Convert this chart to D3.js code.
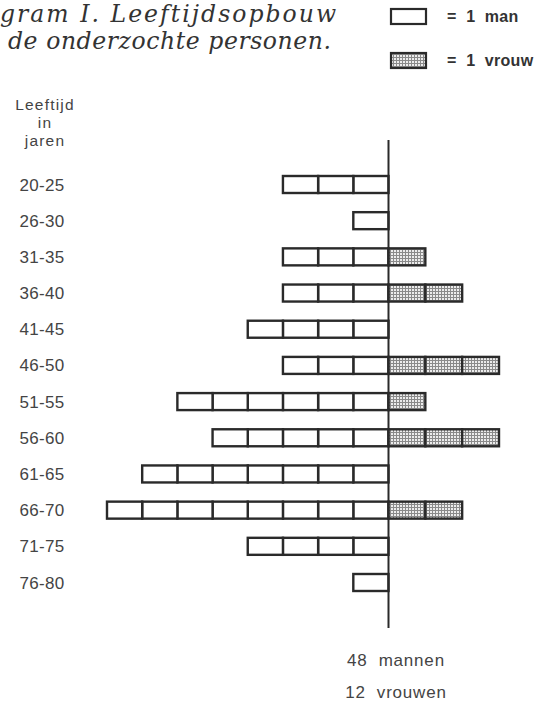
<!DOCTYPE html>
<html><head><meta charset="utf-8">
<script src="https://cdn.jsdelivr.net/npm/d3@7"></script>
<style>html,body{margin:0;padding:0;background:#fff;}svg{display:block;}</style>
</head><body>
<script>
const ageGroups = ["20-25","26-30","31-35","36-40","41-45","46-50","51-55","56-60","61-65","66-70","71-75","76-80"];
const men   = [3,1,3,3,4,3,6,5,7,8,4,1];
const women = [0,0,1,2,0,3,1,3,0,2,0,0];
const titleLines = ["gram I.  Leeftijdsopbouw", "de onderzochte personen."];
const legendLabels = ["=  1  man", "=  1  vrouw"];
const axisTitle = ["Leeftijd", "in", "jaren"];
const totals = ["48  mannen", "12  vrouwen"];

const W = 552, H = 705;
const svg = d3.select("body").append("svg").attr("width", W).attr("height", H);

const defs = svg.append("defs");
const pat = defs.append("pattern").attr("id","dots").attr("patternUnits","userSpaceOnUse")
  .attr("width",3).attr("height",3);
pat.append("rect").attr("width",3).attr("height",3).attr("fill","#ececec");
pat.append("rect").attr("x",0).attr("y",0).attr("width",1).attr("height",3).attr("fill","#8a8a8a");
pat.append("rect").attr("x",0).attr("y",0).attr("width",3).attr("height",1).attr("fill","#8a8a8a");

const axisX = 388.5;
const xMen = d3.scaleLinear().domain([0, 8]).range([axisX, 107]);
const xWomen = d3.scaleLinear().domain([0, 3]).range([axisX, 499]);
const y = d3.scalePoint().domain(ageGroups).range([184.5, 582.5]);
const boxH = 17;
const ink = "#2a2a2a";
const sans = "'Liberation Sans', Arial, sans-serif";

// title
svg.append("g").selectAll("text").data(titleLines).join("text")
  .attr("x", (d,i) => i === 0 ? 0 : 8).attr("y", (d,i) => 22 + i*27)
  .attr("font-family", "'DejaVu Serif', 'Liberation Serif', serif")
  .attr("font-style", "italic").attr("font-size", 23.5).attr("fill", "#333")
  .attr("textLength", (d,i) => i === 0 ? 336 : 323).attr("lengthAdjust", "spacing")
  .text(d => d);

// legend
const leg = svg.append("g");
[0,1].forEach(i => {
  const ly = 9 + i*44;
  leg.append("rect").attr("x", 391).attr("y", ly).attr("width", 35).attr("height", 15)
    .attr("fill", i === 0 ? "#fff" : "url(#dots)").attr("stroke", ink).attr("stroke-width", 2.2);
  leg.append("text").attr("x", 447).attr("y", ly + 13)
    .attr("font-family", sans).attr("font-weight", "bold")
    .attr("font-size", 16).attr("fill", "#333").attr("xml:space","preserve")
    .attr("letter-spacing", 0.3).text(legendLabels[i]);
});

// axis title
svg.append("g").selectAll("text").data(axisTitle).join("text")
  .attr("x", 45).attr("y", (d,i) => 110 + i*18).attr("text-anchor", "middle")
  .attr("font-family", sans).attr("font-size", 15.5).attr("letter-spacing", 1.2).attr("fill", "#444")
  .text(d => d);

// row labels
svg.append("g").selectAll("text").data(ageGroups).join("text")
  .attr("x", 42).attr("y", d => y(d) + 6).attr("text-anchor", "middle")
  .attr("font-family", sans).attr("font-size", 17).attr("letter-spacing", 0.3).attr("fill", "#444")
  .text(d => d);

// boxes
const rows = ageGroups.map((g,i) => ({g, m: men[i], w: women[i]}));
const gm = svg.append("g");
rows.forEach(r => {
  gm.selectAll(null).data(d3.range(r.m)).join("rect")
    .attr("x", k => xMen(k+1)).attr("width", k => xMen(k) - xMen(k+1))
    .attr("y", y(r.g) - boxH/2).attr("height", boxH)
    .attr("fill", "#fff").attr("stroke", ink).attr("stroke-width", 2.4);
  gm.selectAll(null).data(d3.range(r.w)).join("rect")
    .attr("x", k => xWomen(k)).attr("width", k => xWomen(k+1) - xWomen(k))
    .attr("y", y(r.g) - boxH/2).attr("height", boxH)
    .attr("fill", "url(#dots)").attr("stroke", ink).attr("stroke-width", 2.4);
});

// vertical axis
svg.append("line").attr("x1", axisX).attr("x2", axisX).attr("y1", 140).attr("y2", 628)
  .attr("stroke", ink).attr("stroke-width", 2);

// totals
svg.append("g").selectAll("text").data(totals).join("text")
  .attr("x", 396).attr("y", (d,i) => 666 + i*32).attr("text-anchor", "middle")
  .attr("xml:space","preserve").attr("letter-spacing", 0.8)
  .attr("font-family", sans).attr("font-size", 17).attr("fill", "#444")
  .text(d => d);
</script>
</body></html>
